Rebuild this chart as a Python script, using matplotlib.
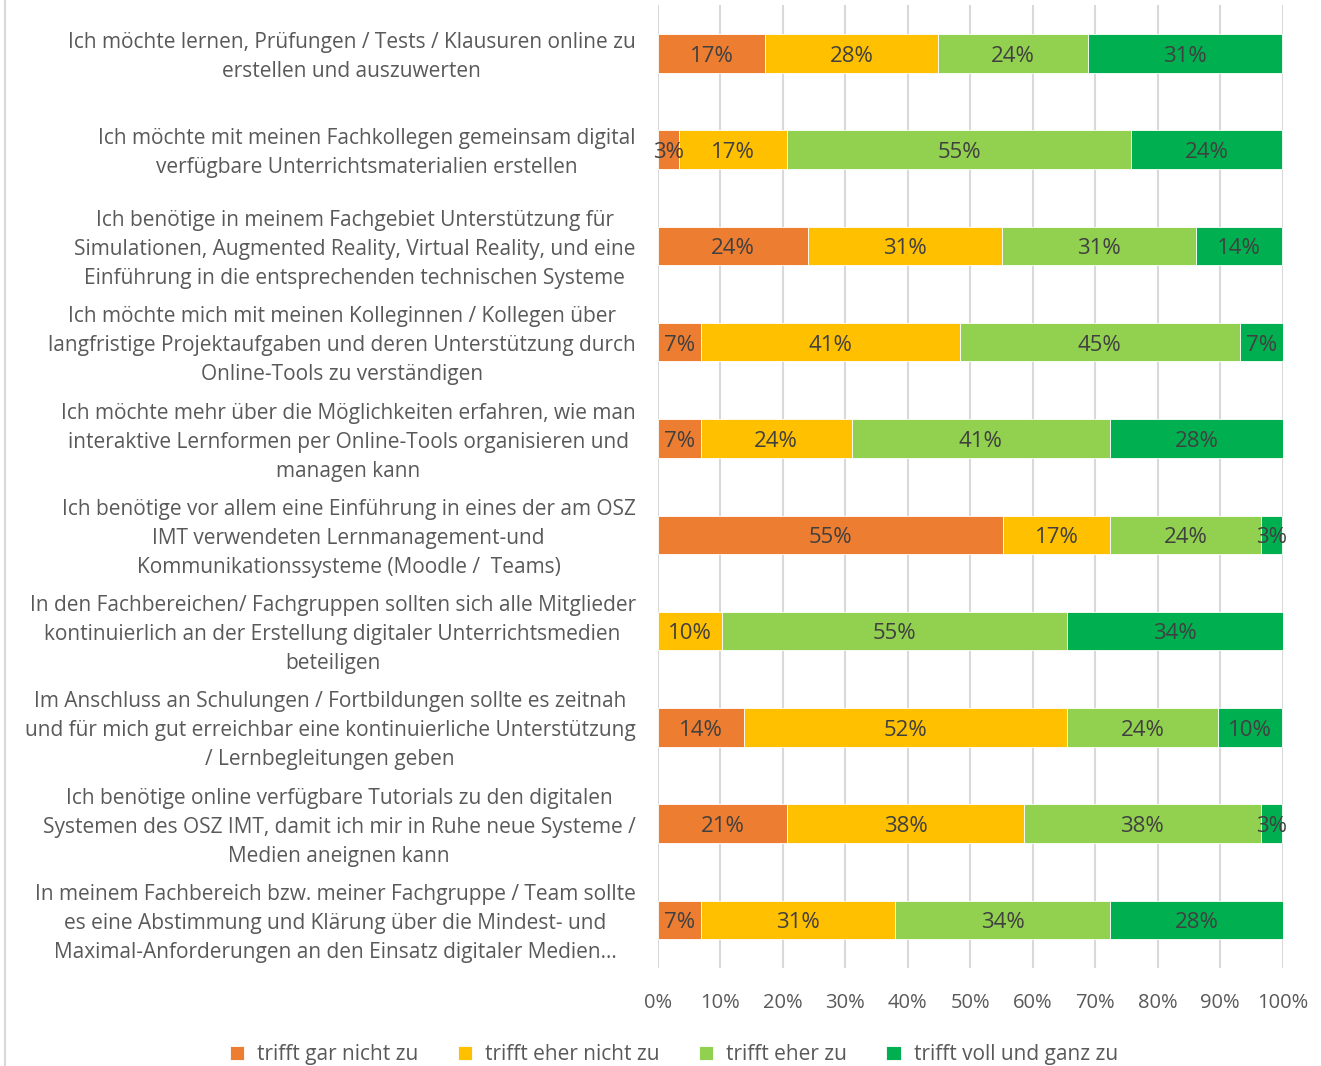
import matplotlib.pyplot as plt
import numpy as np

plt.rcParams['font.family'] = ['Open Sans', 'DejaVu Sans']

statements = [
    "Ich möchte lernen, Prüfungen / Tests / Klausuren online zu\nerstellen und auszuwerten",
    "Ich möchte mit meinen Fachkollegen gemeinsam digital\nverfügbare Unterrichtsmaterialien erstellen",
    "Ich benötige in meinem Fachgebiet Unterstützung für\nSimulationen, Augmented Reality, Virtual Reality, und eine\nEinführung in die entsprechenden technischen Systeme",
    "Ich möchte mich mit meinen Kolleginnen / Kollegen über\nlangfristige Projektaufgaben und deren Unterstützung durch\nOnline-Tools zu verständigen",
    "Ich möchte mehr über die Möglichkeiten erfahren, wie man\ninteraktive Lernformen per Online-Tools organisieren und\nmanagen kann",
    "Ich benötige vor allem eine Einführung in eines der am OSZ\nIMT verwendeten Lernmanagement-und\nKommunikationssysteme (Moodle /  Teams)",
    "In den Fachbereichen/ Fachgruppen sollten sich alle Mitglieder\nkontinuierlich an der Erstellung digitaler Unterrichtsmedien\nbeteiligen",
    "Im Anschluss an Schulungen / Fortbildungen sollte es zeitnah\nund für mich gut erreichbar eine kontinuierliche Unterstützung\n/ Lernbegleitungen geben",
    "Ich benötige online verfügbare Tutorials zu den digitalen\nSystemen des OSZ IMT, damit ich mir in Ruhe neue Systeme /\nMedien aneignen kann",
    "In meinem Fachbereich bzw. meiner Fachgruppe / Team sollte\nes eine Abstimmung und Klärung über die Mindest- und\nMaximal-Anforderungen an den Einsatz digitaler Medien…",
]

categories = ["trifft gar nicht zu", "trifft eher nicht zu", "trifft eher zu", "trifft voll und ganz zu"]

gar_nicht = [17.2, 3.4, 24.1, 6.9, 6.9, 55.2, 0.0, 13.8, 20.7, 6.9]
eher_nicht = [27.6, 17.2, 31.0, 41.4, 24.1, 17.2, 10.3, 51.7, 37.9, 31.0]
eher = [24.1, 55.2, 31.0, 44.8, 41.4, 24.1, 55.2, 24.1, 37.9, 34.5]
voll = [31.0, 24.1, 13.8, 6.9, 27.6, 3.4, 34.5, 10.3, 3.4, 27.6]

colors = ["#ED7D31", "#FFC000", "#92D050", "#00B050"]

series = [gar_nicht, eher_nicht, eher, voll]

fig = plt.figure(figsize=(13.21, 10.66), dpi=100)
ax = fig.add_axes([0.498, 0.092, 0.473, 0.903])

y = np.arange(len(statements))
left = np.zeros(len(statements))
for vals, col, name in zip(series, colors, categories):
    vals = np.array(vals)
    bars = ax.barh(y, vals, left=left, height=0.4, color=col, edgecolor='white',
                   linewidth=0.6, label=name, zorder=2)
    for b, v in zip(bars, vals):
        if v > 0:
            ax.text(b.get_x() + b.get_width() / 2, b.get_y() + b.get_height() / 2 + 0.03,
                    f"{v:.0f}%", ha='center', va='center', fontsize=16,
                    color='#404040', zorder=3)
    left += vals

ax.set_xlim(0, 100)
ax.set_ylim(len(statements) - 0.5, -0.5)
ax.set_xticks(np.arange(0, 101, 10))
ax.set_xticklabels([f"{t}%" for t in range(0, 101, 10)], fontsize=14.5, color='#595959')
ax.set_yticks(y - 0.03)
ax.set_yticklabels(statements, fontsize=15, color='#595959', linespacing=1.5)
for lbl in ax.get_yticklabels():
    lbl.set_multialignment('center')
ax.tick_params(axis='both', length=0)
ax.tick_params(axis='x', pad=18)
ax.tick_params(axis='y', pad=16)
ax.grid(axis='x', color='#D9D9D9', linewidth=1.5, zorder=0)
for s in ax.spines.values():
    s.set_visible(False)

handles, labels = ax.get_legend_handles_labels()
fig.legend(handles, labels, loc='lower center', bbox_to_anchor=(0.51, -0.017), ncol=4,
           frameon=False, fontsize=15, handlelength=0.7, handleheight=0.7,
           handletextpad=0.6, columnspacing=1.9, labelcolor='#595959')

fig.add_artist(plt.Line2D([0.004, 0.004], [0.0, 1.0], color='#D9D9D9', linewidth=1.5))

fig.savefig("out.png", dpi=100)
